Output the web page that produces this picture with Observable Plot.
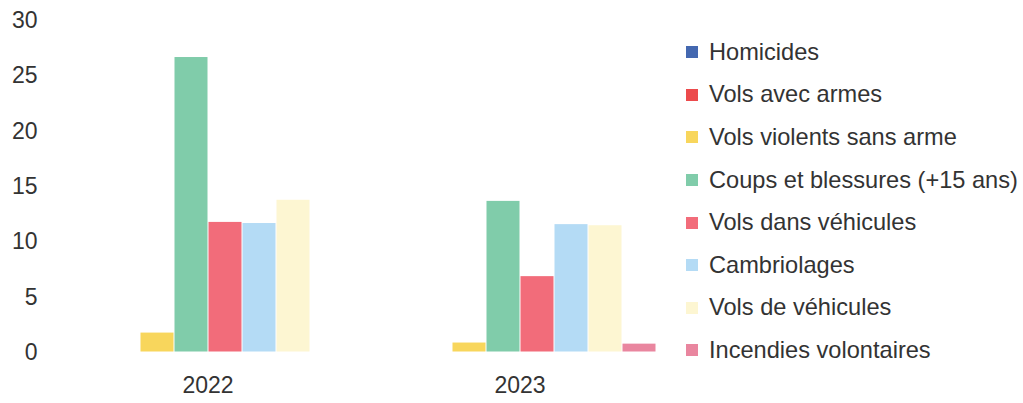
<!DOCTYPE html>
<html>
<head>
<meta charset="utf-8">
<script src="https://cdn.jsdelivr.net/npm/d3@7"></script>
<script src="https://cdn.jsdelivr.net/npm/@observablehq/plot@0.6"></script>
<style>
  html, body { margin: 0; padding: 0; background: #fff; }
  #wrap { position: relative; width: 1023px; height: 403px; font-family: "Liberation Sans", Arial, sans-serif; }
  #legend { position: absolute; left: 686px; top: 31px; color: #333; font-size: 23.6px; }
  #legend .row { display: flex; align-items: center; height: 42.6px; white-space: nowrap; }
  #legend .sw { width: 12px; height: 12px; margin-right: 11px; flex: none; }
</style>
</head>
<body>
<div id="wrap">
  <div id="chart"></div>
  <div id="legend"></div>
</div>
<script>
const years = ["2022", "2023"];
const categories = [
  "Homicides",
  "Vols avec armes",
  "Vols violents sans arme",
  "Coups et blessures (+15 ans)",
  "Vols dans véhicules",
  "Cambriolages",
  "Vols de véhicules",
  "Incendies volontaires"
];
const values2022 = [0, 0, 1.8, 26.7, 11.8, 11.7, 13.8, 0];
const values2023 = [0, 0, 0.9, 13.7, 6.9, 11.6, 11.5, 0.8];
const colors = ["#4468b0", "#ec4a4c", "#f8d65c", "#80ccaa", "#f26c7a", "#b4dbf5", "#fdf6d2", "#e9869f"];
const yTicks = [0, 5, 10, 15, 20, 25, 30];

const table = [];
years.forEach((yr, j) => {
  const vals = j === 0 ? values2022 : values2023;
  categories.forEach((c, i) => table.push({year: yr, category: c, value: vals[i]}));
});

const chart = Plot.plot({
  width: 1023,
  height: 403,
  marginLeft: 69,
  marginRight: 366,
  marginTop: 20,
  marginBottom: 51,
  style: {fontFamily: "'Liberation Sans', Arial, sans-serif", fontSize: "23px", color: "#333", background: "#fff"},
  fx: {domain: years, paddingInner: 0.12, paddingOuter: 0, label: null},
  x: {domain: categories, padding: 0, axis: null},
  y: {domain: [0, 30], axis: null},
  color: {domain: categories, range: colors},
  marks: [
    Plot.barY(table, {fx: "year", x: "category", y: "value", fill: "category", inset: 0.5}),
    Plot.axisY({ticks: yTicks, tickSize: 0, tickPadding: 33, label: null, fontSize: 23, fill: "#333"}),
    Plot.axisFx({anchor: "bottom", tickSize: 0, tickPadding: 24, label: null, fontSize: 23, fill: "#333"})
  ]
});
document.getElementById("chart").appendChild(chart);

const legend = d3.select("#legend");
categories.forEach((c, i) => {
  const row = legend.append("div").attr("class", "row");
  row.append("div").attr("class", "sw").style("background", colors[i]);
  row.append("span").text(c);
});
</script>
</body>
</html>
